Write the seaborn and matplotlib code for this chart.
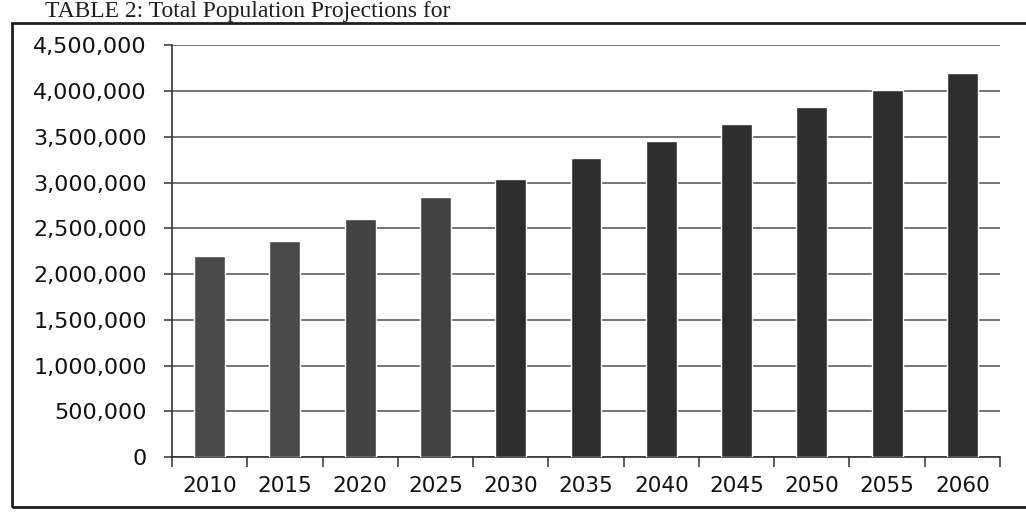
import matplotlib
matplotlib.use("Agg")
import matplotlib.pyplot as plt
from matplotlib.patches import Rectangle
from matplotlib.ticker import FuncFormatter, FixedLocator
import seaborn as sns
import pandas as pd

# Total population projections, 2010-2060
years = ["2010", "2015", "2020", "2025", "2030", "2035",
         "2040", "2045", "2050", "2055", "2060"]
population = [2200000, 2360000, 2600000, 2840000, 3040000, 3270000,
              3450000, 3640000, 3830000, 4010000, 4200000]
y_ticks = [0, 500000, 1000000, 1500000, 2000000, 2500000,
           3000000, 3500000, 4000000, 4500000]
title = "TABLE 2: Total Population Projections for"

bar_colors = ["#4a4a4a", "#4a4a4a", "#424242", "#424242"] + ["#2e2e2e"] * 7

sns.set_theme(style="white")
plt.rcParams["font.family"] = ["DejaVu Sans"]

df = pd.DataFrame({"year": years, "population": population})

fig = plt.figure(figsize=(10.26, 5.21), dpi=100)
fig.patch.set_facecolor("white")
ax = fig.add_axes([0.1676, 0.1228, 0.8071, 0.7900])

sns.barplot(data=df, x="year", y="population", hue="year",
            palette=bar_colors, legend=False, width=0.41,
            saturation=1, ax=ax, zorder=3)

ax.set_xlim(-0.5, len(years) - 0.5)
ax.set_ylim(0, 4500000)
ax.yaxis.set_major_locator(FixedLocator(y_ticks))
ax.yaxis.set_major_formatter(FuncFormatter(lambda v, p: f"{int(v):,}"))
ax.grid(axis="y", color="#505050", linewidth=1.1, zorder=1)
ax.set_axisbelow(True)

ax.set_xlabel("")
ax.set_ylabel("")

for side in ("top", "right"):
    ax.spines[side].set_visible(False)
for side in ("left", "bottom"):
    ax.spines[side].set_color("#333333")
    ax.spines[side].set_linewidth(1.2)

# tick marks between categories on the x axis
ax.set_xticks([i + 0.5 for i in range(-1, len(years))], minor=True)
ax.tick_params(axis="x", which="major", length=0, pad=14,
               labelsize=15.5, labelcolor="#111111")
ax.tick_params(axis="x", which="minor", length=7, width=1.1,
               color="#333333", direction="out", bottom=True)
ax.tick_params(axis="y", which="major", length=6, width=1.1,
               color="#333333", direction="out", left=True, pad=12,
               labelsize=16, labelcolor="#111111")

# outer frame around the chart
frame = Rectangle((12 / 1026, 1 - 507 / 521), 1.1, (507 - 23) / 521,
                  transform=fig.transFigure, fill=False,
                  edgecolor="#1e1e1e", linewidth=2.0, clip_on=False)
fig.patches.append(frame)

fig.text(45 / 1026, 1 - 17 / 521, title, fontfamily="Liberation Serif",
         fontsize=17, color="#1e1e1e", va="baseline", ha="left")

fig.savefig("out.png", dpi=100, facecolor="white")
